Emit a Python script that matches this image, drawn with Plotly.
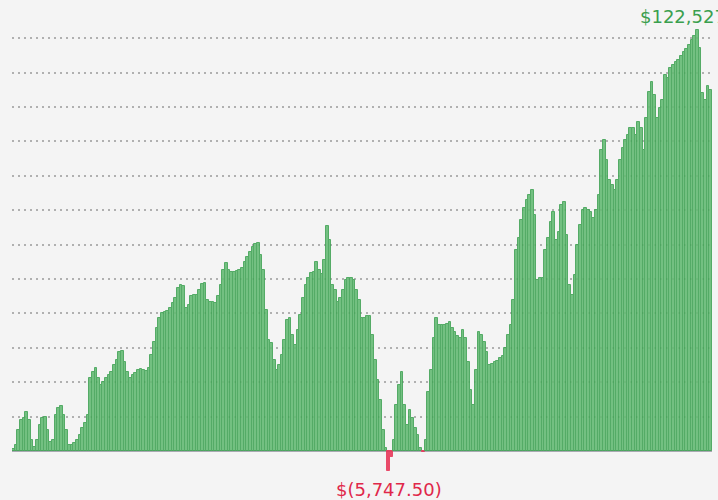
import plotly.graph_objects as go

# cumulative P&L per trade, in $ thousands
equity_k = [
    0.6, 1.7, 6.1, 9.0, 9.6, 11.3, 9.0, 3.2, 1.2, 3.2, 7.6, 9.6, 9.9, 6.1, 2.6, 3.2,
    10.5, 12.5, 13.1, 10.5, 6.1, 1.7, 1.7, 2.3, 3.2, 4.7, 6.7, 8.1, 10.5, 21.2, 23.0,
    24.1, 21.2, 19.2, 20.1, 21.2, 22.1, 23.0, 25.0, 26.5, 28.8, 29.1, 25.9, 23.0, 21.2,
    22.1, 22.7, 23.5, 23.8, 23.5, 23.3, 24.1, 27.9, 31.7, 35.8, 38.7, 40.1, 40.4,
    40.7, 41.6, 43.0, 44.5, 47.4, 48.3, 48.0, 41.6, 42.4, 45.1, 45.3, 45.3, 46.8, 48.5,
    48.8, 43.9, 43.3, 43.3, 43.0, 45.1, 48.3, 52.6, 54.7, 52.6, 52.0, 52.0, 52.3, 52.6,
    53.2, 54.9, 56.4, 57.8, 59.3, 60.2, 60.5, 57.0, 52.6, 41.0, 32.3, 31.4, 26.5, 23.5,
    25.0, 27.9, 32.3, 38.1, 38.7, 33.7, 30.8, 35.2, 39.5, 44.5, 48.3, 50.3, 51.7, 52.0,
    54.9, 52.6, 51.5, 55.5, 65.4, 61.3, 48.3, 46.8, 43.3, 44.5, 46.8, 49.7, 50.3, 50.3,
    49.7, 46.8, 43.9, 38.7, 38.7, 39.2, 39.2, 33.7, 26.5, 20.6, 14.8, 6.1, 0.9, -5.7475,
    -1.6, 3.2, 13.4, 19.2, 23.0, 13.4, 7.6, 11.9, 9.6, 6.7, 4.7, 0.9, -0.4, 3.2, 17.2,
    23.5, 32.8, 38.7, 36.6, 36.6, 36.6, 36.9, 37.5, 35.8, 34.6, 33.4, 32.8, 35.2, 32.8,
    25.9, 17.7, 13.4, 23.5, 34.6, 33.7, 31.7, 28.8, 25.0, 25.3, 25.9, 26.2, 27.0, 27.6,
    29.9, 33.7, 36.6, 43.9, 58.4, 62.0, 67.2, 70.6, 73.0, 74.4, 75.9, 68.6, 49.7, 50.3,
    50.3, 58.4, 61.9, 66.6, 69.5, 61.3, 63.7, 71.5, 72.4, 62.8, 48.3, 45.3, 51.2, 59.9,
    65.7, 70.1, 70.6, 70.1, 69.5, 67.7, 70.1, 74.4, 87.5, 90.4, 84.6, 78.8, 77.3, 75.9,
    78.8, 84.6, 88.1, 90.4, 91.9, 93.9, 93.9, 91.9, 95.6, 93.9, 87.5, 96.8, 104.4, 107.3,
    103.5, 96.8, 99.7, 102.0, 109.3, 108.4, 111.3, 112.2, 113.1, 113.7, 114.8, 116.0,
    117.0, 118.0, 119.5, 120.6, 122.5275, 117.2, 104.0, 102.0, 106.1, 104.9,
]
equity = [v * 1000 for v in equity_k]
trades = list(range(len(equity)))

GREEN = "#66bb75"
GREEN_EDGE = "#43a457"
RED = "#e8385a"

colors = [GREEN if v >= 0 else RED for v in equity]
edges = [GREEN_EDGE if v >= 0 else RED for v in equity]

i_max = max(trades, key=lambda i: equity[i])
i_min = min(trades, key=lambda i: equity[i])

def money(v):
    return f"${v:,.2f}" if v >= 0 else f"$({-v:,.2f})"

fig = go.Figure()
fig.add_trace(go.Bar(
    x=trades, y=equity,
    marker=dict(color=colors, line=dict(color=edges, width=1)),
    opacity=0.9,
    hoverinfo="skip",
))

fig.add_annotation(x=i_max, y=equity[i_max], text=money(equity[i_max]),
                   showarrow=False, yanchor="bottom", yshift=0,
                   font=dict(color="#3a9f4e", size=18))
fig.add_annotation(x=i_min, y=equity[i_min], text=money(equity[i_min]),
                   showarrow=False, yanchor="top", yshift=-6,
                   font=dict(color="#e0284a", size=18))

fig.update_layout(
    width=718, height=500,
    margin=dict(l=12, r=6, t=20, b=20),
    paper_bgcolor="#f4f4f4", plot_bgcolor="#f4f4f4",
    font=dict(family="DejaVu Sans"),
    bargap=0,
    showlegend=False,
    xaxis=dict(range=[-0.5, len(equity) - 0.5], showgrid=False, zeroline=False,
               showticklabels=False, ticks=""),
    yaxis=dict(range=[-8430, 125290], dtick=10000, showticklabels=False,
               gridcolor="#b0b0b0", gridwidth=2, griddash="2px,4px",
               zeroline=True, zerolinecolor="#a9a9b2", zerolinewidth=2),
)

# drop the default page margin so the chart sits at the window's corner
fig.write_html("out.html", config={"displayModeBar": False},
               post_script="document.body.style.margin='0';")
